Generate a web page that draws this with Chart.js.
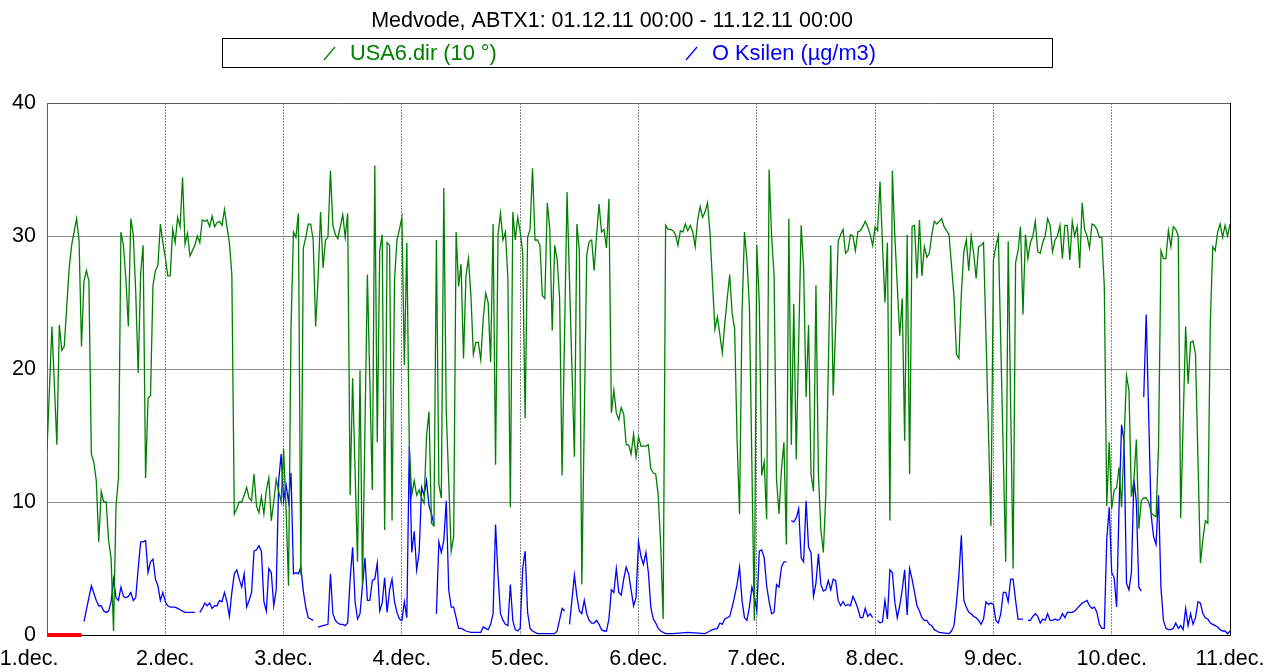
<!DOCTYPE html>
<html>
<head>
<meta charset="utf-8">
<script src="https://cdn.jsdelivr.net/npm/chart.js@4.4.0/dist/chart.umd.min.js"></script>
<style>
  html, body { margin: 0; padding: 0; background: #fff; }
</style>
</head>
<body>
<canvas id="chart" width="1268" height="672"></canvas>
<script>
const chartTitle = "Medvode, ABTX1: 01.12.11 00:00 - 11.12.11 00:00";
const seriesNames = ["USA6.dir (10 °)", "O Ksilen (µg/m3)"];
const dayLabels = ["1.dec.", "2.dec.", "3.dec.", "4.dec.", "5.dec.", "6.dec.",
  "7.dec.", "8.dec.", "9.dec.", "10.dec.", "11.dec."];
const yTicks = [0, 10, 20, 30, 40];

// [hours since 01.12. 00:00, value]
const dirData = [
  [0,13.9],[1,23.2],[2,14.3],[2.5,23.3],[3,21.4],[3.5,21.7],[4.5,27.6],[5,29.3],[6,31.3],[6.5,29.7],
  [7,21.7],[7.5,26.6],[8,27.4],[8.5,26.6],[9,13.6],[9.5,13.0],[10,11.6],[10.5,7.0],[11,10.8],[11.5,10.0],
  [12,10.0],[12.5,7.1],[13,5.8],[13.5,0.3],[14,9.7],[14.5,11.8],[15,30.3],[15.5,29.3],[16,26.8],[16.5,23.2],
  [17,31.3],[17.5,30.1],[18,25.8],[18.5,19.7],[19,27.2],[19.5,29.3],
  [20,11.8],[20.5,17.8],[21,18.0],[21.5,26.3],[22,27.4],[22.5,27.8],[23,30.9],[23.5,29.5],[24,28.4],[24.5,27.0],
  [25,27.0],[25.5,30.5],[26,29.5],[26.5,31.4],[27,30.7],[27.5,34.4],[28,29.4],[28.5,30.2],[29,28.5],[29.5,28.9],
  [30,29.3],[30.5,30.0],[31,29.5],[31.5,31.2],[32,31.1],[32.5,31.2],[33,30.7],[33.5,31.5],[34,30.7],[34.5,31.0],
  [35,31.1],[35.5,30.8],[36,32.0],[36.5,30.7],[37,29.5],[37.5,27.1],[38,9.1],[38.5,9.5],[39,10.0],[39.5,10.0],
  [40,10.5],[40.5,11.1],[41,10.3],[41.5,10.1],[42,12.1],[42.5,9.7],[43,9.2],[43.5,10.4],[44,9.1],[44.5,10.9],
  [45,11.8],[45.5,8.6],[46,10.0],[46.5,11.7],[47,10.8],[47.5,10.0],[48,14.0],[48.5,9.5],[49,3.7],[49.5,23.0],
  [50,30.3],[50.5,29.9],[51,31.7],[51.5,4.5],[52,29.1],[52.5,29.9],[53,30.9],[53.5,30.9],[54,29.7],[54.5,23.2],
  [55,26.8],[55.5,31.8],[56,27.6],[56.5,29.7],[57,29.9],[57.5,34.9],[58,30.8],[58.5,30.1],[59,29.8],[59.5,30.7],
  [60,31.6],[60.5,29.9],[61,31.7],[61.5,10.5],[62,19.3],[63,5.5],[63.5,19.9],[64,3.7],[65,27.1],[66,10.9],
  [66.5,35.3],[67,14.5],[67.5,28.9],[68,30.1],[68.5,7.9],[69,29.5],[69.5,29.3],[70,8.6],[70.5,26.7],[71,29.7],
  [71.5,30.5],[72,31.4],[72.5,20.3],[73,29.5],[73.5,14.2],[74,10.5],[74.5,11.6],[75,10.5],[75.5,10.9],[76,10.3],
  [76.5,9.9],[77,15.0],[77.5,16.8],[78,8.4],[78.5,8.2],[79,29.7],[79.5,11.3],[80,10.3],[80.5,33.6],[81,16.8],
  [82,6.3],[82.5,7.4],[83,30.3],[83.5,26.2],[84,27.9],[84.5,20.8],[85,27.0],[85.5,28.3],[86,25.5],[86.5,21.1],
  [87,22.0],[87.5,22.0],[88,20.7],[88.5,23.8],[89,25.7],[89.5,25.0],[90,20.5],[90.5,30.9],[91,12.8],[91.5,30.1],
  [92,31.7],[92.5,29.7],[93,30.3],[93.5,26.8],[94,9.6],[94.5,31.8],[95,29.7],[95.5,31.4],[96,30.3],[96.5,28.8],
  [97,16.3],[97.5,29.9],[98,30.5],[98.5,35.1],[99,29.7],[99.5,29.7],
  [100,29.3],[100.5,25.5],[101,25.3],[101.5,32.5],[102,30.5],[102.5,22.9],[103,29.3],[103.5,28.2],[104,25.3],[104.5,12.0],
  [105.5,33.3],[107,13.4],[107.5,30.9],[108,28.9],[108.5,3.8],[109.5,28.6],[110,29.6],[110.5,29.7],[111,27.4],[111.5,30.1],
  [112,32.4],[112.5,30.3],[113,30.5],[113.5,29.1],[114,32.8],[114.5,16.7],[115,18.4],[115.5,16.7],[116,16.2],[116.5,17.1],
  [117,16.6],[117.5,14.3],[118,14.3],[118.5,13.6],[119,15.1],[119.5,13.4],[120,14.9],[120.5,14.2],[121,14.2],[121.5,14.2],
  [122,14.3],[122.5,12.5],[123,12.2],[123.5,12.1],[124,10.5],[124.5,6.8],[125,1.2],[125.5,30.8],[126,30.5],[126.5,30.5],
  [127,30.4],[127.5,30.1],[128,29.3],[128.5,30.4],[129,30.3],[129.5,30.9],[130,30.4],[130.5,30.8],[131,30.3],[131.5,29.2],
  [132,31.2],[132.5,32.2],[133,31.4],[133.5,31.8],[134,32.5],[134.5,30.3],[135,26.6],[135.5,23.0],[136,23.9],[136.5,22.6],
  [137,21.2],[137.5,23.4],[138,25.3],[138.5,27.1],[139,24.2],[139.5,23.0],[140,14.7],[140.5,9.1],[141,24.2],[141.5,30.3],
  [142,28.2],[142.5,24.7],[143.5,1.1],[144,29.3],[144.5,25.0],[145,12.0],[145.5,13.0],[146,8.7],[146.5,35.0],[147,30.0],
  [147.5,27.1],[148,11.7],[148.5,9.1],[149,12.4],[149.5,14.5],[150,6.8],[150.5,31.3],[151,14.3],[151.5,24.9],[152,13.2],
  [153,30.8],[153.5,27.6],[154,17.9],[154.5,23.3],[155,12.1],[155.5,10.8],[156,26.3],[156.5,12.1],[157,7.9],[157.5,6.2],
  [158,10.5],[159,29.3],[159.5,18.0],[160,23.2],[160.5,29.6],[161,30.1],[161.5,30.5],[162,28.7],[162.5,28.9],[163,30.1],
  [163.5,30.0],[164,28.9],[164.5,30.3],[165,30.4],[165.5,30.7],[166,31.1],[166.5,30.7],[167,30.1],[167.5,29.3],[168,30.7],
  [168.5,30.4],[169,34.1],[169.5,29.3],[170,25.0],[170.5,29.5],[171,8.6],[171.5,34.9],[172,30.0],[173,22.5],[173.5,25.3],
  [174,14.6],[174.5,30.1],[175,12.1],[175.5,30.7],[176,30.8],[176.5,26.8],[177,31.2],[177.5,27.0],[178,29.2],[178.5,28.4],
  [179,28.7],[179.5,30.1],[180,31.1],[180.5,30.9],[181,31.1],[181.5,31.3],[182,30.7],[182.5,30.4],[183,30.1],[184,25.5],
  [184.5,21.1],[185,20.8],[185.5,25.7],[186,28.8],[186.5,29.7],[187,27.4],[187.5,30.0],[188,28.7],[188.5,26.8],[189,29.2],
  [189.5,29.3],[190,29.5],[191.5,8.2],[192,28.2],[192.5,29.2],[193,30.0],[194.5,5.5],[195,29.6],[196,5.0],[196.5,28.0],
  [197,28.9],[197.5,30.7],[198,24.1],[198.5,30.1],[199,28.3],[199.5,29.5],[200,30.0],[200.5,31.1],[201,28.8],[201.5,28.7],
  [202,29.5],[202.5,30.0],[203,31.3],[203.5,30.8],[204,28.8],[204.5,29.7],[205,30.0],[205.5,30.8],[206,28.3],[206.5,30.8],
  [207,30.8],[207.5,28.2],[208,31.1],[208.5,30.0],[209,30.7],[209.5,27.6],[210,32.5],[210.5,30.5],[211,30.0],[211.5,29.1],
  [212,30.9],[212.5,30.8],[213,30.5],[213.5,29.9],[214,29.9],[214.5,26.2],[215,9.7],[215.5,14.5],[216,9.5],[216.5,10.9],
  [217,11.1],[217.5,12.6],[218,9.6],[219,19.5],[219.5,18.4],[220,10.4],[220.5,11.6],[221,14.7],[221.5,8.0],[222,10.1],
  [222.5,10.3],[223,10.3],[223.5,10.0],[224,9.2],[224.5,9.0],[225,8.9],[225.5,14.2],[226,28.9],[226.5,28.3],[227,28.3],
  [227.5,30.4],[228,29.2],[228.5,30.7],[229,30.5],[229.5,30.0],[230,8.8],[231,23.2],[231.5,18.9],[232,22.0],[232.5,22.1],
  [233,21.1],[234,5.4],[234.5,7.2],[235,8.6],[235.5,8.4],[236,23.4],[236.5,29.2],[237,28.9],[237.5,30.3],[238,30.9],
  [238.5,29.9],[239,30.8],[239.5,30.0],[240,30.9]
];

// null = missing measurement (gap in the line)
const ksilenData = [
  [7.5,1.0],[9,3.7],[10,2.6],[10.5,2.2],[11,2.2],[11.5,1.8],[12,1.7],[12.5,1.8],[13,2.5],[13.5,4.2],
  [14,2.8],[14.5,2.6],[15,3.6],[15.5,2.9],[16,2.8],[16.5,2.9],[17,3.2],[17.5,2.6],[18,2.8],[18.5,5.0],
  [19,7.0],[19.5,7.0],[20,7.1],[20.5,4.7],[21,5.5],[21.5,5.7],[22,4.2],[22.5,3.7],[23,2.6],[23.5,3.2],
  [24,2.5],[24.5,2.2],[25,2.1],[25.5,2.1],[26,2.1],[26.5,2.0],[27,1.9],[27.5,1.8],[28,1.7],[28.5,1.7],
  [29,1.7],[29.5,1.7],[30,1.7],[30.5,null],[31,1.7],[31.5,2.0],[32,2.4],[32.5,2.2],[33,2.4],[33.5,2.0],
  [34,2.2],[34.5,2.2],[35,2.6],[35.5,2.5],[36,3.2],[36.5,2.5],[37,1.4],[37.5,3.2],[38,4.6],[38.5,4.9],
  [39,4.2],[39.5,3.6],[40,4.6],[40.5,2.1],[41,2.6],[41.5,3.2],[42,6.3],[42.5,6.4],[43,6.7],[43.5,6.3],
  [44,2.5],[44.5,1.8],[45,5.0],[45.5,4.7],[46,2.2],[46.5,3.4],[47,11.6],[47.5,13.6],[48,10.1],[48.5,11.3],
  [49,10.0],[49.5,12.2],[50,4.6],[50.5,4.7],[51,4.6],[51.5,5.1],[52,3.3],[52.5,2.1],[53,1.3],[53.5,1.2],
  [54,1.1],[54.5,null],[55,0.6],[56,0.7],[57,0.8],[57.5,4.6],[58,1.6],[58.5,1.1],[59,0.9],[59.5,0.8],
  [60,0.8],[60.5,0.7],[61,0.9],[61.5,4.2],[62,6.6],[62.5,2.5],[63,1.2],[63.5,1.6],[64.5,5.8],[65,2.6],
  [65.5,2.6],[66,4.1],[66.5,4.2],[67,5.4],[67.5,1.8],[68,2.4],[68.5,4.3],[69,1.7],[69.5,3.4],[70,4.2],
  [70.5,2.5],[71,1.7],[71.5,1.2],[72,1.1],[72.5,2.5],[73,1.3],[73.5,14.2],[74,6.2],[74.5,7.8],[75,4.9],
  [75.5,6.2],[76,11.1],[76.5,10.5],[77,11.6],[77.5,9.7],[78,9.1],[78.5,8.3],[78.7,null],[79,1.6],[79.5,7.0],
  [80,6.2],[80.5,7.1],[81,10.1],[81.5,3.4],[82,2.1],[82.5,2.1],[83,1.3],[83.5,0.5],[84,0.5],[84.5,0.4],
  [85,0.3],[86,0.2],[87,0.2],[88,0.2],[88.5,0.6],[89,0.5],[89.5,0.4],[90,0.8],[90.5,1.6],[91,8.3],
  [91.5,4.5],[92,1.6],[92.5,1.1],[93,0.8],[93.5,0.7],[94,3.8],[94.5,1.1],[95,0.4],[95.5,0.3],[96,0.5],
  [96.5,5.0],[97,6.3],[97.5,1.7],[98,0.5],[98.5,0.3],[99.5,0.1],[101,0.1],[103,0.1],[103.5,0.3],[104.5,2.0],
  [105,1.8],[105.5,null],[106,0.8],[107,4.5],[107.5,2.9],[108,1.8],[108.5,1.6],[109,2.6],[109.5,1.6],[110,1.1],
  [110.5,0.9],[111,0.9],[111.5,1.1],[112,0.8],[112.5,0.4],[113,0.3],[113.5,0.3],[114,1.2],[114.5,3.4],[115,3.2],
  [115.5,5.0],[116,3.2],[116.5,3.0],[117,4.2],[117.5,5.1],[118,4.6],[118.5,3.4],[119,2.2],[119.5,2.8],[120,7.0],
  [120.5,5.9],[121,5.3],[121.5,6.2],[122,4.7],[122.5,2.1],[123,1.2],[123.5,0.9],[124,0.5],[124.5,0.3],[125.5,0.1],
  [127,0.1],[130,0.2],[133.5,0.1],[134.5,0.3],[135,0.4],[136,0.5],[136.5,0.9],[137,0.8],[137.5,1.2],[138,1.3],
  [138.5,1.4],[139,2.1],[139.5,2.9],[140,3.8],[140.5,5.1],[141,2.6],[141.5,1.3],[142,1.1],[142.5,2.1],[143,3.6],
  [143.5,2.9],[144,1.8],[144.5,6.3],[145,6.4],[145.5,5.8],[146,3.7],[146.5,2.5],[147,1.6],[147.5,1.7],[148,3.8],
  [148.5,3.6],[149,5.1],[149.5,5.5],[150,5.5],[150.5,null],[151,8.6],[151.5,8.5],[152,8.8],[152.5,9.5],[153,5.8],
  [153.5,5.5],[154,10.1],[154.5,6.6],[155,6.2],[155.5,2.9],[156,3.9],[156.5,6.1],[157,3.8],[157.5,3.3],[158,3.4],
  [158.5,4.1],[159,3.4],[159.5,4.2],[160,4.1],[160.5,2.6],[161,2.2],[161.5,2.5],[162,2.2],[162.5,2.3],[163,2.2],
  [163.5,2.9],[164,2.5],[164.5,2.0],[165,1.3],[165.5,1.3],[166,2.0],[166.5,1.4],[167,1.6],[167.5,1.3],[168,null],
  [168.5,1.1],[169,0.9],[169.5,1.0],[170,2.6],[170.5,1.2],[171,4.9],[171.5,4.7],[172,2.5],[172.5,1.3],[173,2.2],
  [173.5,3.4],[174,4.9],[174.5,1.5],[175,5.0],[175.5,4.2],[176,3.2],[176.5,2.2],[177,1.8],[177.5,1.3],[178,1.1],
  [178.5,1.1],[179,0.8],[179.5,0.7],[180,0.4],[180.5,0.3],[181,0.2],[183,0.1],[183.5,0.3],[184,0.7],[184.5,2.4],
  [185,4.5],[185.5,7.5],[186,2.6],[186.5,2.1],[187,1.7],[187.5,1.6],[188,1.4],[188.5,1.3],[189,1.1],[189.5,0.8],
  [190,1.2],[190.5,2.5],[191,2.3],[191.5,2.4],[192,2.3],[192.5,1.1],[193,0.9],[193.5,1.6],[194,3.2],[194.5,3.2],
  [195,2.5],[195.5,4.2],[196,4.2],[196.5,2.6],[197,1.2],[197.5,1.2],[198,1.2],[198.3,null],[199,1.1],[199.5,1.1],
  [200,1.4],[200.5,1.6],[201,1.4],[201.5,0.9],[202,1.2],[202.5,1.1],[203,1.6],[203.5,1.1],[204,1.1],[204.5,1.2],
  [205,1.1],[205.5,1.2],[206,1.6],[206.5,1.3],[207,1.7],[207.5,1.7],[208,1.7],[208.5,1.8],[209,2.0],[209.5,2.2],
  [210,2.4],[210.5,2.5],[211,2.6],[211.5,2.2],[212,2.0],[212.5,2.1],[213,1.7],[213.5,0.8],[214,0.5],[214.5,0.5],
  [215,7.2],[215.5,9.6],[216,4.7],[216.5,4.3],[217,2.1],[217.5,9.7],[218,15.8],[218.5,14.6],[219,3.9],[219.5,3.4],
  [220,4.7],[220.5,11.7],[221,10.0],[221.5,3.6],[222,3.3],[222.2,null],[222.5,17.9],[223,24.1],[224,9.0],[224.5,7.4],
  [225,6.8],[225.5,10.5],[226,3.5],[226.5,1.1],[227,0.5],[227.5,0.4],[228,0.4],[228.5,0.5],[229,0.9],[229.5,0.5],
  [230,0.7],[230.5,0.4],[231,2.0],[231.5,0.7],[232,1.6],[232.5,0.8],[233,1.3],[233.5,2.5],[234,2.4],[234.5,1.6],
  [235,1.3],[235.5,1.2],[236,0.9],[236.5,0.8],[237,0.7],[237.5,0.6],[238,0.4],[238.5,0.3],[239,0.3],[239.5,0.1],
  [240,0.3]
];

// flagged (invalid) Ksilen half-hours at the start of the period
const flagData = [[0,0],[0.5,0],[1,0],[1.5,0],[2,0],[2.5,0],[3,0],[3.5,0],[4,0],[4.5,0],[5,0],[5.5,0],[6,0],[6.5,0],[7,0]];

const FONT = "'Liberation Sans', Arial, sans-serif";
Chart.defaults.font.family = FONT;
Chart.defaults.color = "#000";

const toXY = arr => arr.map(p => ({ x: p[0], y: p[1] }));

const frameAndLegend = {
  id: "frameAndLegend",
  beforeDatasetsDraw(chart) {
    const { ctx, chartArea: a } = chart;
    ctx.save();
    ctx.lineWidth = 1;
    ctx.strokeStyle = "#606060";
    ctx.beginPath();
    ctx.moveTo(a.left + 0.5, a.bottom);
    ctx.lineTo(a.left + 0.5, a.top + 0.5);
    ctx.lineTo(a.right, a.top + 0.5);
    ctx.stroke();
    ctx.strokeStyle = "#000";
    ctx.beginPath();
    ctx.moveTo(a.left, a.bottom + 0.5);
    ctx.lineTo(a.right + 0.5, a.bottom + 0.5);
    ctx.lineTo(a.right + 0.5, a.top);
    ctx.stroke();
    ctx.restore();
  },
  afterDraw(chart) {
    const ctx = chart.ctx;
    ctx.save();
    ctx.font = "21.5px " + FONT;
    ctx.textBaseline = "middle";
    ctx.fillStyle = "#000";
    ctx.textAlign = "center";
    ctx.fillText(chartTitle, 612, 21);

    ctx.strokeStyle = "#000";
    ctx.lineWidth = 1;
    ctx.strokeRect(222.5, 38.5, 830, 29);

    const items = [
      { name: seriesNames[0], color: "#008000", sx: 324, tx: 350 },
      { name: seriesNames[1], color: "#0000ff", sx: 686, tx: 712 }
    ];
    ctx.font = "21.8px " + FONT;
    ctx.textAlign = "left";
    items.forEach(it => {
      ctx.strokeStyle = it.color;
      ctx.lineWidth = 1.3;
      ctx.beginPath();
      ctx.moveTo(it.sx, 60);
      ctx.lineTo(it.sx + 11, 47);
      ctx.stroke();
      ctx.fillStyle = it.color;
      ctx.fillText(it.name, it.tx, 54);
    });
    ctx.restore();
  }
};

new Chart(document.getElementById("chart"), {
  type: "line",
  data: {
    datasets: [
      {
        label: seriesNames[0],
        data: toXY(dirData),
        borderColor: "#008000",
        borderWidth: 1.3,
        pointRadius: 0,
        tension: 0
      },
      {
        label: seriesNames[1],
        data: toXY(ksilenData),
        borderColor: "#0000ff",
        borderWidth: 1.3,
        pointRadius: 0,
        tension: 0,
        spanGaps: false
      },
      {
        label: "flag",
        data: toXY(flagData),
        borderColor: "#ff0000",
        borderWidth: 4,
        pointRadius: 0,
        tension: 0,
        clip: false
      }
    ]
  },
  options: {
    responsive: false,
    animation: false,
    events: [],
    layout: { padding: { top: 103, right: 38, left: 0, bottom: 0 } },
    plugins: {
      legend: { display: false },
      title: { display: false },
      tooltip: { enabled: false }
    },
    scales: {
      x: {
        type: "linear",
        min: 0,
        max: 240,
        afterBuildTicks: s => { s.ticks = dayLabels.map((l, i) => ({ value: i * 24 })); },
        afterFit: s => { s.height = 37; s.paddingLeft = 0; s.paddingRight = 0; },
        ticks: {
          // first label sits against the left edge of the picture
          callback: v => v === 0 ? dayLabels[0] + "      " : dayLabels[Math.round(v / 24)],
          font: { size: 21.5 },
          color: "#000",
          padding: 11,
          maxRotation: 0,
          autoSkip: false
        },
        grid: { color: "#8a8a8a", drawTicks: false, lineWidth: 1 },
        border: { display: false, dash: [2, 1] }
      },
      y: {
        min: 0,
        max: 40,
        afterBuildTicks: s => { s.ticks = yTicks.map(v => ({ value: v })); },
        afterFit: s => { s.width = 47; },
        ticks: {
          font: { size: 21.5 },
          color: "#000",
          padding: 11
        },
        grid: { color: "#8a8a8a", drawTicks: false, lineWidth: 1 },
        border: { display: false }
      }
    }
  },
  plugins: [frameAndLegend]
});
</script>
</body>
</html>
